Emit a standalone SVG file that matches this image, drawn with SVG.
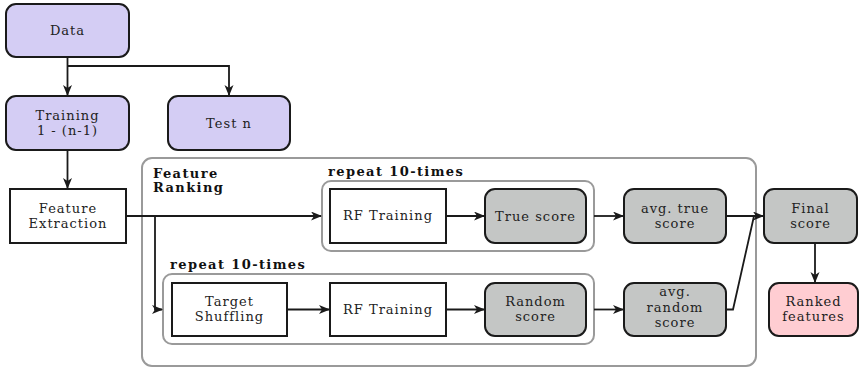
<svg xmlns="http://www.w3.org/2000/svg" width="860" height="369" viewBox="0 0 860 369">
  <style>
    .lbl { font-family: "DejaVu Serif", "Liberation Serif", serif; font-size: 13px; letter-spacing: 1px; fill: #222; text-anchor: middle; }
    .hdr { font-family: "DejaVu Serif", "Liberation Serif", serif; font-size: 13px; font-weight: bold; letter-spacing: 1.4px; fill: #111; }
    .purple { fill: #d4cdf4; stroke: #1a1a1a; stroke-width: 2; }
    .grey { fill: #c4c6c5; stroke: #1a1a1a; stroke-width: 2; }
    .pink { fill: #ffcdd2; stroke: #1a1a1a; stroke-width: 2; }
    .plain { fill: #ffffff; stroke: #1a1a1a; stroke-width: 2; }
    .frame { fill: none; stroke: #9a9a9a; stroke-width: 2; }
    .wire { fill: none; stroke: #1a1a1a; stroke-width: 1.8; }
  </style>
  <defs>
    <marker id="head" markerUnits="userSpaceOnUse" markerWidth="12" markerHeight="10" refX="10" refY="4.5" orient="auto">
      <path d="M0,0 L11,4.5 L0,9 L3,4.5 z" fill="#1a1a1a"/>
    </marker>
  </defs>

  <!-- grouping frames -->
  <g id="feature-ranking">
    <rect class="frame" x="142" y="158" width="614" height="208" rx="10"/>
    <text class="hdr" x="153" y="178">Feature</text>
    <text class="hdr" x="153" y="192">Ranking</text>
  </g>
  <g id="repeat-true">
    <rect class="frame" x="322" y="181" width="272" height="70" rx="9"/>
    <text class="hdr" x="328" y="176">repeat 10-times</text>
  </g>
  <g id="repeat-random">
    <rect class="frame" x="163" y="274" width="431" height="70" rx="9"/>
    <text class="hdr" x="170" y="269">repeat 10-times</text>
  </g>

  <!-- nodes -->
  <g id="data">
    <rect class="purple" x="6" y="4" width="123" height="53" rx="10"/>
    <text class="lbl" x="67.5" y="35">Data</text>
  </g>
  <g id="training">
    <rect class="purple" x="6" y="96" width="123" height="54" rx="10"/>
    <text class="lbl" x="67.5" y="120">Training</text>
    <text class="lbl" x="67.5" y="135">1 - (n-1)</text>
  </g>
  <g id="test">
    <rect class="purple" x="168" y="96" width="122" height="54" rx="10"/>
    <text class="lbl" x="229" y="128">Test n</text>
  </g>
  <g id="feature-extraction">
    <rect class="plain" x="10" y="189" width="116" height="54"/>
    <text class="lbl" x="68" y="213">Feature</text>
    <text class="lbl" x="68" y="228">Extraction</text>
  </g>
  <g id="rf-training-true">
    <rect class="plain" x="330" y="189" width="116" height="54"/>
    <text class="lbl" x="388" y="220">RF Training</text>
  </g>
  <g id="true-score">
    <rect class="grey" x="485" y="189" width="101" height="54" rx="10"/>
    <text class="lbl" x="535.5" y="221">True score</text>
  </g>
  <g id="avg-true-score">
    <rect class="grey" x="624" y="189" width="102" height="54" rx="10"/>
    <text class="lbl" x="675" y="213">avg. true</text>
    <text class="lbl" x="675" y="228">score</text>
  </g>
  <g id="final-score">
    <rect class="grey" x="764" y="189" width="93" height="54" rx="10"/>
    <text class="lbl" x="810.5" y="213">Final</text>
    <text class="lbl" x="810.5" y="228">score</text>
  </g>
  <g id="target-shuffling">
    <rect class="plain" x="172" y="283" width="115" height="53"/>
    <text class="lbl" x="229.5" y="306">Target</text>
    <text class="lbl" x="229.5" y="321">Shuffling</text>
  </g>
  <g id="rf-training-random">
    <rect class="plain" x="330" y="283" width="116" height="53"/>
    <text class="lbl" x="388" y="314">RF Training</text>
  </g>
  <g id="random-score">
    <rect class="grey" x="485" y="283" width="101" height="53" rx="10"/>
    <text class="lbl" x="535.5" y="306">Random</text>
    <text class="lbl" x="535.5" y="321">score</text>
  </g>
  <g id="avg-random-score">
    <rect class="grey" x="624" y="283" width="102" height="53" rx="10"/>
    <text class="lbl" x="675" y="296">avg.</text>
    <text class="lbl" x="675" y="311.5">random</text>
    <text class="lbl" x="675" y="327">score</text>
  </g>
  <g id="ranked-features">
    <rect class="pink" x="769" y="283" width="89" height="53" rx="10"/>
    <text class="lbl" x="813.5" y="306">Ranked</text>
    <text class="lbl" x="813.5" y="321">features</text>
  </g>

  <!-- connectors -->
  <g id="connectors">
    <path class="wire" d="M67.5,57 V95" marker-end="url(#head)"/>
    <path class="wire" d="M67.5,66 H229 V95" marker-end="url(#head)"/>
    <path class="wire" d="M67.5,150 V188" marker-end="url(#head)"/>
    <path class="wire" d="M126,216 H321" marker-end="url(#head)"/>
    <path class="wire" d="M155,216 V309.5 H162" marker-end="url(#head)"/>
    <path class="wire" d="M446,216 H484" marker-end="url(#head)"/>
    <path class="wire" d="M594,216 H623" marker-end="url(#head)"/>
    <path class="wire" d="M287,309.5 H329" marker-end="url(#head)"/>
    <path class="wire" d="M446,309.5 H484" marker-end="url(#head)"/>
    <path class="wire" d="M594,309.5 H623" marker-end="url(#head)"/>
    <path class="wire" d="M726,216 H763" marker-end="url(#head)"/>
    <path class="wire" d="M726,309.5 H733 L754,216"/>
    <path class="wire" d="M815,243 V282" marker-end="url(#head)"/>
  </g>
</svg>
